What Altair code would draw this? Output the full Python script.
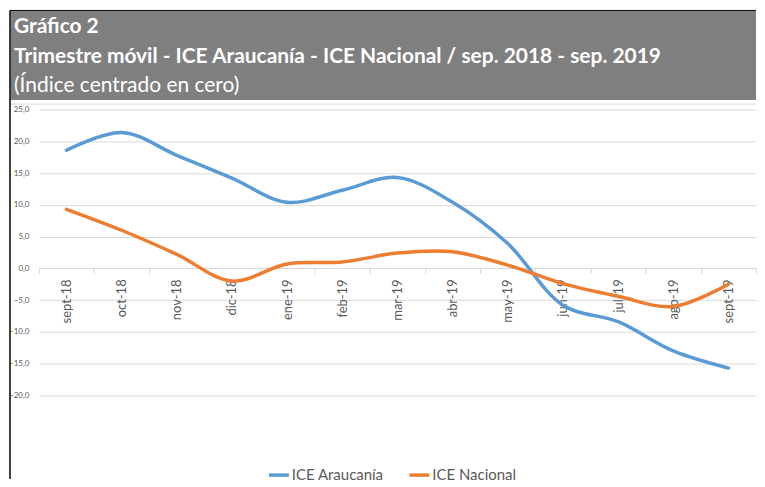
import altair as alt
import pandas as pd

meses = ["sept-18", "oct-18", "nov-18", "dic-18", "ene-19", "feb-19", "mar-19",
         "abr-19", "may-19", "jun-19", "jul-19", "ago-19", "sept-19"]
araucania = [18.6, 21.4, 17.8, 14.2, 10.4, 12.3, 14.3, 10.4, 3.9, -5.8, -8.4, -13.0, -15.7]
nacional = [9.3, 6.0, 2.2, -2.0, 0.7, 1.0, 2.4, 2.6, 0.5, -2.4, -4.4, -6.0, -2.5]
series = ["ICE Araucanía", "ICE Nacional"]
colores = ["#5B9BD5", "#ED7D31"]
titulo = ["Gráfico 2",
          "Trimestre móvil - ICE Araucanía - ICE Nacional / sep. 2018 - sep. 2019",
          "(Índice centrado en cero)"]
y_ticks = [-20, -15, -10, -5, 0, 5, 10, 15, 20, 25]

rows = []
for m, a, n in zip(meses, araucania, nacional):
    rows.append({"mes": m, "serie": series[0], "valor": a})
    rows.append({"mes": m, "serie": series[1], "valor": n})
df = pd.DataFrame(rows)

W, H = 720, 287
FONT = "Lato"
TFONT = "Lato"
GRAY = "#595959"

lines = alt.Chart(df).mark_line(
    interpolate="catmull-rom", strokeWidth=3.5, strokeCap="round"
).encode(
    x=alt.X("mes:N", sort=meses, title=None,
            scale=alt.Scale(type="band", paddingInner=0, paddingOuter=0),
            axis=alt.Axis(orient="bottom", offset=-128, labelAngle=-90,
                          tickBand="extent", tickSize=6, tickColor="#d9d9d9",
                          domainColor="#d9d9d9", labelPadding=5, labelFont=FONT,
                          labelFontSize=13, labelColor=GRAY, grid=False)),
    y=alt.Y("valor:Q", title=None,
            scale=alt.Scale(domain=[-20, 25], nice=False, zero=False),
            axis=alt.Axis(values=y_ticks, domain=False, ticks=False, grid=True,
                          gridColor="#d9d9d9", labelFont=FONT, labelFontSize=8,
                          labelColor=GRAY, labelPadding=10,
                          labelExpr="replace(format(datum.value, '.1f'), '.', ',')")),
    color=alt.Color("serie:N", sort=series,
                    scale=alt.Scale(domain=series, range=colores),
                    legend=alt.Legend(orient="none", legendX=229, legendY=355,
                                      direction="horizontal", title=None,
                                      symbolType="stroke", symbolStrokeWidth=3.5,
                                      symbolSize=400, labelFont=FONT,
                                      labelFontSize=15, labelColor=GRAY,
                                      labelOffset=1, columnPadding=18)),
)

one = pd.DataFrame({"k": [0]})
header = alt.Chart(one).mark_rect(color="#7f7f7f").encode(
    x=alt.value(-28.5), x2=alt.value(W), y=alt.value(-99), y2=alt.value(-9.5))
top_border = alt.Chart(one).mark_rule(color="#d9d9d9", strokeWidth=1).encode(
    x=alt.value(-28.5), x2=alt.value(W), y=alt.value(-5.5))
left_line = alt.Chart(one).mark_rule(color="#000000", strokeWidth=1.5).encode(
    x=alt.value(-29), y=alt.value(-99.5), y2=alt.value(371))
top_line = alt.Chart(one).mark_rule(color="#000000", strokeWidth=1).encode(
    x=alt.value(-29), x2=alt.value(W), y=alt.value(-99.5))

t1 = alt.Chart(one).mark_text(align="left", baseline="alphabetic", font=TFONT,
                              fontSize=21, fontWeight="bold", color="white").encode(
    x=alt.value(-25), y=alt.value(-77), text=alt.value(titulo[0]))
t2 = alt.Chart(one).mark_text(align="left", baseline="alphabetic", font=TFONT,
                              fontSize=21, fontWeight="bold", color="white").encode(
    x=alt.value(-25), y=alt.value(-46.5), text=alt.value(titulo[1]))
t3 = alt.Chart(one).mark_text(align="left", baseline="alphabetic", font=TFONT,
                              fontSize=21, color="white").encode(
    x=alt.value(-25), y=alt.value(-18), text=alt.value(titulo[2]))

chart = alt.layer(header, top_border, left_line, top_line, t1, t2, t3, lines).properties(
    width=W, height=H, padding=0, background="white"
).configure_view(stroke=None)

chart.save("out.html", embed_options={"renderer": "svg", "actions": False})
